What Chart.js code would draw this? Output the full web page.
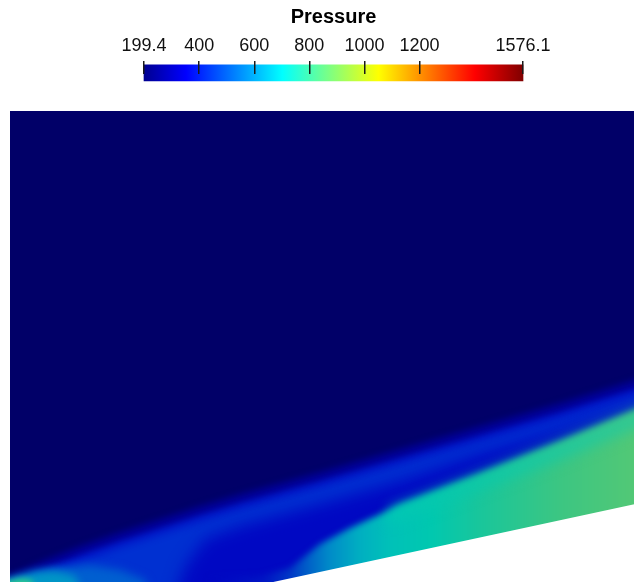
<!DOCTYPE html>
<html><head><meta charset="utf-8">
<script src="https://cdn.jsdelivr.net/npm/chart.js@4.4.1/dist/chart.umd.min.js"></script>
<style>
html,body{margin:0;padding:0;background:#fff;overflow:hidden;width:634px;height:582px;}
#cb{position:absolute;left:0;top:0;}
#fieldBox{position:absolute;left:10px;top:111px;width:624px;height:471px;overflow:hidden;}
#field{position:absolute;left:-20px;top:-20px;}
</style></head><body>
<canvas id="cb" width="634" height="100" style="width:634px;height:100px"></canvas>
<div id="fieldBox"><canvas id="field" width="664" height="511" style="width:664px;height:511px"></canvas></div>
<script>
// ---------- colour bar ----------
const TITLE = 'Pressure';
const P_MIN = 199.4, P_MAX = 1576.1;
const TICK_VALUES = [199.4, 400, 600, 800, 1000, 1200, 1576.1];
const TICK_LABELS = ['199.4', '400', '600', '800', '1000', '1200', '1576.1'];
const JET_POS = [0, 0.111, 0.365, 0.492, 0.619, 0.873, 1];
const JET_COL = ['#000090', '#0000ff', '#00ffff', '#80ff80', '#ffff00', '#ff0000', '#800000'];

// ---------- pressure field (x: px from left edge of domain, y: px above bottom of picture) ----------
const BG_X = [-30, -30, 660, 660, -30];
const BG_Y = [-30, 500, 500, -30, -30];
const SHOCK_X       = [-30, 2, 30, 70, 110, 150, 190, 230, 270, 310, 390, 470, 550, 624, 660];
const SHOCK_OUTER_Y = [-6, 8, 20, 36, 50, 63, 76, 88, 99, 110, 133, 156, 179, 202, 210];
const SHOCK_MID_Y   = [-15, -1, 11, 27, 41, 54, 67, 79, 90, 101, 124, 147, 170, 193, 201];
const STRIPE_TOP_Y  = [-21, -7, 5, 21, 35, 48, 61, 73, 84, 95, 118, 141, 164, 187, 195];
const DARK_X = [160, 175, 195, 230, 270, 310, 390, 470, 550, 624, 660, 660, 160];
const DARK_Y = [-30, 15, 43, 56, 67, 78, 101, 128, 152, 177, 188, -30, -30];
const GLOW_A_X = [-20, -20, 2, 40, 80, 110, 135, 145, -20];
const GLOW_A_Y = [-30, -8, 3, 13, 17, 12, 2, -30, -30];
const GLOW_B_X = [-20, -20, 2, 25, 45, 65, 80, -20];
const GLOW_B_Y = [-30, -6, 3, 10, 11, 6, -30, -30];
const GLOW_C_X = [-20, -20, 2, 12, 22, 30, -20];
const GLOW_C_Y = [-30, -4, 2, 4, 2, -30, -30];
const TEAL_X = [200, 200, 250, 280, 310, 340, 390, 470, 550, 624, 660, 660, 200];
const TEAL_Y = [-30, 4, 6, 14, 38, 54, 77, 108, 140, 171, 186, -30, -30];
const TEAL_GRAD_X = [200, 255, 280, 300, 320, 350, 380, 420, 470, 550, 624];
const TEAL_GRAD_C = ['rgb(0,6,194)', 'rgb(0,22,196)', 'rgb(0,55,198)', 'rgb(0,100,200)', 'rgb(0,140,200)', 'rgb(0,175,193)', 'rgb(0,193,184)', 'rgb(0,200,176)', 'rgb(25,198,155)', 'rgb(60,198,130)', 'rgb(82,200,118)'];
const RIDGE_X = [380, 470, 550, 624, 660, 660, 624, 550, 470, 380, 380];
const RIDGE_Y = [73, 108, 140, 171, 186, 168, 153, 122, 92, 58, 73];
const RIDGE_GRAD_X = [380, 470, 550, 624];
const RIDGE_GRAD_C = ['rgb(0,200,180)', 'rgb(12,200,168)', 'rgb(30,200,158)', 'rgb(45,200,150)'];
const WALL_X = [240, 660, 660, 240, 240];
const WALL_Y = [-5.1, 85.5, -30, -30, -5.1];

const FONT = "'Liberation Sans', Arial, sans-serif";

function pts(xs, ys) { return xs.map((x, i) => ({ x: x, y: ys[i] })); }
function below(xs, ys) {
  const p = pts(xs, ys);
  p.push({ x: 660, y: -30 }, { x: -30, y: -30 }, { x: xs[0], y: ys[0] });
  return p;
}
function hGrad(xs, cols) {
  return function (c) {
    const chart = c.chart, sx = chart.scales && chart.scales.x;
    if (!chart.chartArea || !sx) return cols[0];
    const x0 = sx.getPixelForValue(xs[0]), x1 = sx.getPixelForValue(xs[xs.length - 1]);
    const g = chart.ctx.createLinearGradient(x0, 0, x1, 0);
    const span = xs[xs.length - 1] - xs[0];
    xs.forEach((v, i) => g.addColorStop((v - xs[0]) / span, cols[i]));
    return g;
  };
}

// colour bar chart
const jetGrad = function (c) {
  const chart = c.chart, sx = chart.scales && chart.scales.x;
  if (!chart.chartArea || !sx) return JET_COL[0];
  const x0 = sx.getPixelForValue(P_MIN), x1 = sx.getPixelForValue(P_MAX);
  const g = chart.ctx.createLinearGradient(x0, 0, x1, 0);
  JET_POS.forEach((p, i) => g.addColorStop(p, JET_COL[i]));
  return g;
};

new Chart(document.getElementById('cb'), {
  type: 'bar',
  data: { datasets: [{ data: [{ x: [P_MIN, P_MAX], y: -4 }], backgroundColor: jetGrad, borderWidth: 0, barThickness: 16, clip: false }] },
  options: {
    indexAxis: 'y', responsive: false, animation: false, events: [],
    layout: { padding: { left: 144, right: 111, top: 0, bottom: 26 } },
    plugins: {
      legend: { display: false }, tooltip: { enabled: false },
      title: { display: true, text: TITLE, color: '#000', font: { family: FONT, size: 20, weight: 'bold' }, padding: { top: 5, bottom: 2.5 } }
    },
    scales: {
      x: {
        type: 'linear', position: 'top', min: P_MIN, max: P_MAX,
        afterBuildTicks: s => { s.ticks = TICK_VALUES.map(v => ({ value: v })); },
        ticks: { autoSkip: false, maxRotation: 0, padding: 3.9, color: '#111', font: { family: FONT, size: 18 }, callback: (v, i) => TICK_LABELS[i] },
        grid: { drawOnChartArea: true, drawTicks: false, color: '#1a1a1a', lineWidth: 1.5, z: 1 },
        border: { display: false }
      },
      y: { type: 'linear', min: 0, max: 12, display: false }
    }
  }
});

// field chart
const layers = [
  { p: pts(BG_X, BG_Y), c: 'rgb(1,0,104)', b: 0 },
  { p: below(SHOCK_X, SHOCK_OUTER_Y), c: 'rgb(0,0,150)', b: 3 },
  { p: below(SHOCK_X, SHOCK_MID_Y), c: 'rgb(0,18,198)', b: 3 },
  { p: below(SHOCK_X, STRIPE_TOP_Y), c: 'rgb(0,48,209)', b: 4 },
  { p: pts(DARK_X, DARK_Y), c: 'rgb(0,8,195)', b: 8 },
  { p: pts(GLOW_A_X, GLOW_A_Y), c: 'rgb(0,95,208)', b: 5 },
  { p: pts(GLOW_B_X, GLOW_B_Y), c: 'rgb(0,150,198)', b: 4 },
  { p: pts(GLOW_C_X, GLOW_C_Y), c: 'rgb(45,200,145)', b: 3 },
  { p: pts(TEAL_X, TEAL_Y), c: hGrad(TEAL_GRAD_X, TEAL_GRAD_C), b: 3 },
  { p: pts(RIDGE_X, RIDGE_Y), c: hGrad(RIDGE_GRAD_X, RIDGE_GRAD_C), b: 7 },
  { p: pts(WALL_X, WALL_Y), c: '#ffffff', b: 0 }
];
const datasets = layers.map((l, i) => ({
  data: l.p, showLine: true, fill: 'shape', backgroundColor: l.c,
  borderColor: 'rgba(0,0,0,0)', borderWidth: 0, pointRadius: 0, tension: 0, order: -i
}));
const blurPlugin = {
  id: 'fieldBlur',
  beforeDraw(chart) { chart.ctx.filter = layers[0].b ? 'blur(' + layers[0].b + 'px)' : 'none'; },
  afterDatasetDraw(chart, args) {
    const nx = layers[args.index + 1];
    chart.ctx.filter = nx && nx.b ? 'blur(' + nx.b + 'px)' : 'none';
  },
  afterDraw(chart) { chart.ctx.filter = 'none'; }
};
new Chart(document.getElementById('field'), {
  type: 'scatter',
  data: { datasets: datasets },
  options: {
    responsive: false, animation: false, events: [],
    layout: { padding: 0 },
    plugins: { legend: { display: false }, tooltip: { enabled: false }, title: { display: false } },
    scales: {
      x: { type: 'linear', min: -20, max: 644, display: false },
      y: { type: 'linear', min: -20, max: 491, display: false }
    }
  },
  plugins: [blurPlugin]
});
</script>
</body></html>
